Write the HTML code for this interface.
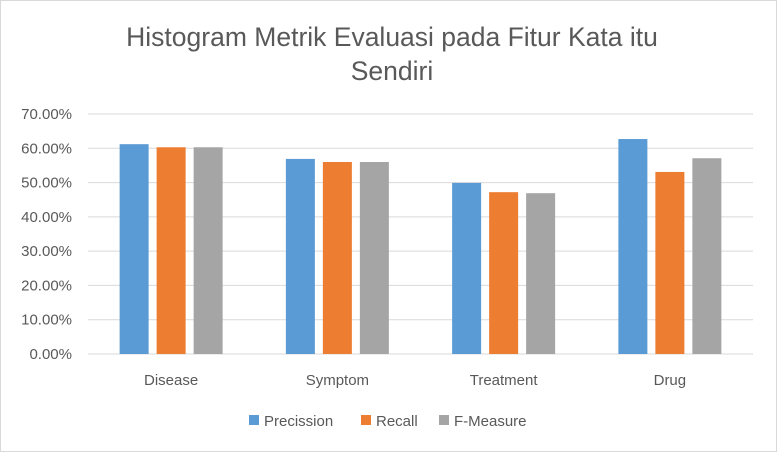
<!DOCTYPE html>
<html><head><meta charset="utf-8"><style>
body{margin:0;background:#fff;}
svg{display:block;font-family:"Liberation Sans",sans-serif;}
</style></head><body>
<svg id="chart" width="777" height="452">
<rect x="0.5" y="0.5" width="776" height="451" fill="#fff" stroke="#d9d9d9"/>
<text x="392" y="46" text-anchor="middle" font-size="26.5" fill="#595959">Histogram Metrik Evaluasi pada Fitur Kata itu</text>
<text x="392" y="80" text-anchor="middle" font-size="26.5" fill="#595959">Sendiri</text>
<g id="grid"></g><g id="bars"></g><g id="labels"></g><g id="legend"></g>
</svg>
<script>
const categories=["Disease","Symptom","Treatment","Drug"];
const precission=[61.2,56.9,49.9,62.7];
const recall=[60.3,56.0,47.2,53.1];
const fmeasure=[60.3,56.0,46.9,57.1];
const ticks=[0,10,20,30,40,50,60,70];
const seriesNames=["Precission","Recall","F-Measure"];
const colors=["#5b9bd5","#ed7d31","#a5a5a5"];
const NS="http://www.w3.org/2000/svg";
const x0=88,x1=753,yBase=354,yTop=114,maxV=70;
const y=v=>yBase-(v/maxV)*(yBase-yTop);
const catW=(x1-x0)/categories.length;
function mk(t,a,p){const e=document.createElementNS(NS,t);for(const k in a)e.setAttribute(k,a[k]);p.appendChild(e);return e;}
const grid=document.getElementById('grid'),bars=document.getElementById('bars'),labels=document.getElementById('labels'),legend=document.getElementById('legend');
ticks.forEach(t=>{
 const l=mk('line',{x1:x0,x2:x1,y1:y(t),y2:y(t),stroke:'#d9d9d9','stroke-width':1},grid);
 
 
 const tx=mk('text',{x:72,y:y(t)+5,'text-anchor':'end','font-size':15,fill:'#595959'},labels);
 tx.textContent=t.toFixed(2)+'%';
 
 
});
const series=[precission,recall,fmeasure];
const bw=29,gap=8;
categories.forEach((c,i)=>{
 const cx=x0+catW*(i+0.5);
 series.forEach((s,j)=>{
  const bx=cx-(3*bw+2*gap)/2+j*(bw+gap);
  const r=mk('rect',{x:bx,y:y(s[i]),width:bw,height:yBase-y(s[i]),fill:colors[j]},bars);
  
  
 });
 const t=mk('text',{x:cx,y:385,'text-anchor':'middle','font-size':15,fill:'#595959'},labels);
 t.textContent=c;
 
 
});
const lx=[249,361,439];
seriesNames.forEach((n,j)=>{
 const r=mk('rect',{x:lx[j],y:415,width:10,height:10,fill:colors[j]},legend);
 
 
 const t=mk('text',{x:lx[j]+15,y:426,'font-size':15,fill:'#595959'},legend);
 t.textContent=n;
 
 
});
</script>
</body></html>
